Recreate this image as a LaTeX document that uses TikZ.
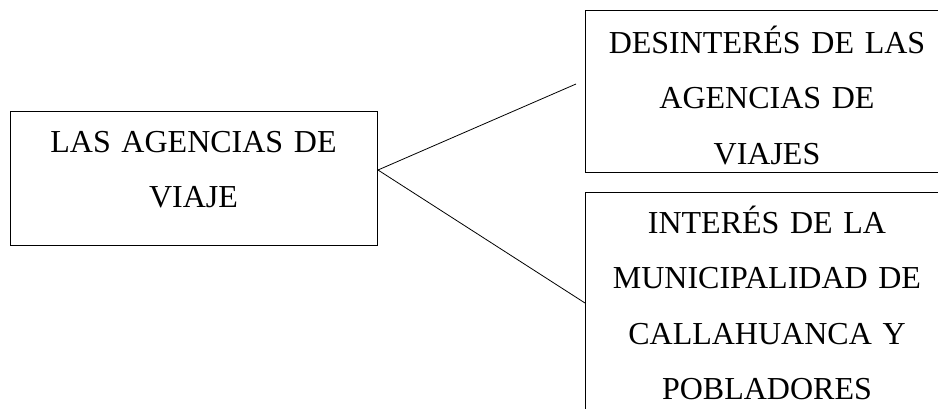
\documentclass[tikz,border=0pt]{standalone}
\usepackage{fontspec}
\setmainfont{Liberation Serif}

\begin{document}
\begin{tikzpicture}[x=1pt,y=1pt,yscale=-1,xscale=1,
  box/.style={draw,line width=1pt,inner sep=0pt,anchor=north west},
  boxtext/.style={anchor=base,align=center,inner sep=0pt,font=\fontsize{32}{55.5}\selectfont},
  link/.style={line width=0.8pt}]

\useasboundingbox (0,0) rectangle (938,408);
\clip (0,0) rectangle (938,408);

% boxes
\node [box,minimum width=367pt,minimum height=134pt] (lbox) at (10,111) {};
\node [box,minimum width=364pt,minimum height=162pt] (tbox) at (585,10) {};
\node [box,minimum width=364pt,minimum height=230pt] (bbox) at (585,192) {};

% texts
\node [boxtext,text width=360pt] (ltext) at (193.5,152) {LAS AGENCIAS DE\\VIAJE};
\node [boxtext,text width=360pt] (ttext) at (767,53) {DESINTERÉS DE LAS\\AGENCIAS DE\\VIAJES};
\node [boxtext,text width=360pt] (btext) at (767,233) {INTERÉS DE LA\\MUNICIPALIDAD DE\\CALLAHUANCA Y\\POBLADORES};

% connectors
\coordinate (apex) at (lbox.east |- 0,170);
\coordinate (tend) at (576,84);
\coordinate (bend) at (bbox.west |- 0,303);
\draw [link] (apex) -- (tend);
\draw [link] (apex) -- (bend);
\end{tikzpicture}
\end{document}
